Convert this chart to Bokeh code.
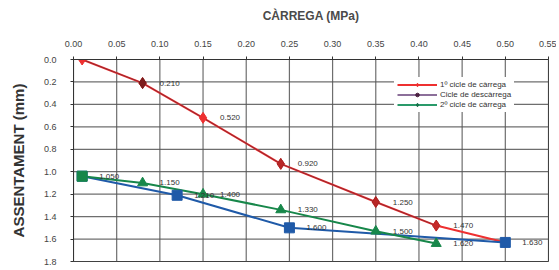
from bokeh.plotting import figure
from bokeh.models import (Range1d, FixedTicker, NumeralTickFormatter, Legend, LegendItem,
                          ColumnDataSource)
from bokeh.core.properties import value
from bokeh.embed import file_html
from bokeh.resources import INLINE

# ---- data ----
x_ticks = [0.00, 0.05, 0.10, 0.15, 0.20, 0.25, 0.30, 0.35, 0.40, 0.45, 0.50, 0.55]
y_ticks = [0.0, 0.2, 0.4, 0.6, 0.8, 1.0, 1.2, 1.4, 1.6, 1.8]

load1_x = [0.01, 0.08, 0.15, 0.24, 0.35, 0.42, 0.50]
load1_y = [0.00, 0.21, 0.52, 0.93, 1.27, 1.48, 1.63]
load1_lbl = ["", "0.210", "0.520", "0.920", "1.250", "1.470", "1.630"]

desc_x = [0.01, 0.08, 0.15, 0.24, 0.35, 0.42]
desc_y = [0.00, 0.21, 0.52, 0.93, 1.27, 1.48]

unload_x = [0.50, 0.25, 0.12, 0.01]
unload_y = [1.63, 1.50, 1.21, 1.04]
unload_lbl = ["", "1.600", "1.210", ""]

load2_x = [0.01, 0.08, 0.15, 0.24, 0.35, 0.42]
load2_y = [1.04, 1.10, 1.20, 1.34, 1.53, 1.64]
load2_lbl = ["1.050", "1.150", "1.400", "1.330", "1.500", "1.620"]

legend_labels = ["1º cicle de càrrega", "Cicle de descàrrega", "2º cicle de càrrega"]

FONT = "Liberation Sans"
RED = "#ee3030"
DARK = "#5a2430"
BLUE = "#1f5aa8"
GREEN = "#17874a"
NAN = float("nan")

p = figure(width=556, height=266, output_backend="svg", toolbar_location=None,
           x_range=Range1d(0.0, 0.55), y_range=Range1d(1.8, 0.0),
           x_axis_location="above",
           min_border_left=73, min_border_right=8, min_border_top=59, min_border_bottom=5)
p.outline_line_color = "#333333"
p.outline_line_width = 1

# axes
p.xaxis.ticker = FixedTicker(ticks=x_ticks)
p.yaxis.ticker = FixedTicker(ticks=y_ticks)
p.xaxis.formatter = NumeralTickFormatter(format="0.00")
p.yaxis.formatter = NumeralTickFormatter(format="0.0")
for ax in (p.xaxis, p.yaxis):
    ax.major_label_text_font = FONT
    ax.major_label_text_font_size = "9px"
    ax.major_label_text_color = "#444444"
    ax.axis_line_color = "#333333"
    ax.major_tick_line_color = "#333333"
    ax.major_tick_out = 3
    ax.major_tick_in = 0
    ax.minor_tick_line_color = None
    ax.axis_label_text_font = FONT
    ax.axis_label_text_font_style = "bold"
p.xaxis.axis_label = "CÀRREGA (MPa)"
p.xaxis.axis_label_text_font_size = "12px"
p.xaxis.axis_label_text_color = "#4a4a4a"
p.xaxis.major_label_standoff = 10
p.xaxis.axis_label_standoff = 15
p.yaxis.axis_label = "ASSENTAMENT (mm)"
p.yaxis.axis_label_text_font_size = "15px"
p.yaxis.axis_label_text_color = "#333333"
p.yaxis.major_label_standoff = 14
p.yaxis.axis_label_standoff = 14
p.xgrid.grid_line_color = None
p.ygrid.grid_line_color = None

# grid lines drawn as glyphs at the tick values, spanning the axis ranges
nx, ny = len(x_ticks), len(y_ticks)
p.segment(x0=x_ticks, y0=[y_ticks[0]] * nx, x1=x_ticks, y1=[y_ticks[-1]] * nx,
          line_color="#555555", line_alpha=0.85, line_width=1.2)
p.segment(x0=[x_ticks[0]] * ny, y0=y_ticks, x1=[x_ticks[-1]] * ny, y1=y_ticks,
          line_color="#555555", line_alpha=0.85, line_width=1.2)

# series
s1 = ColumnDataSource(dict(x=load1_x, y=load1_y, t=load1_lbl))
sd = ColumnDataSource(dict(x=desc_x, y=desc_y))
su = ColumnDataSource(dict(x=unload_x, y=unload_y, t=unload_lbl))
s2 = ColumnDataSource(dict(x=load2_x, y=load2_y, t=load2_lbl))

p.line("x", "y", source=s1, line_color=RED, line_width=2)
p.line("x", "y", source=sd, line_color=DARK, line_width=1, line_alpha=0.6)
p.scatter("x", "y", source=s1, marker="diamond", size=11, fill_color=RED, line_color=RED)
dark_pts = ColumnDataSource(dict(x=[desc_x[i] for i in (1, 3, 4, 5)],
                                 y=[desc_y[i] for i in (1, 3, 4, 5)],
                                 a=[0.85, 0.4, 0.4, 0.3]))
p.scatter("x", "y", source=dark_pts, marker="diamond", size=11, fill_color="#6a1a1a",
          line_color="#6a1a1a", fill_alpha="a", line_alpha="a")

p.line("x", "y", source=su, line_color=BLUE, line_width=2)
p.line("x", "y", source=s2, line_color=GREEN, line_width=2)
p.scatter("x", "y", source=su, marker="square", size=10, fill_color=BLUE, line_color=BLUE)
g_markers = ["square"] + ["triangle"] * (len(load2_x) - 1)
s2.data["m"] = g_markers
p.scatter("x", "y", source=s2, marker="m", size=10, fill_color=GREEN, line_color=GREEN)

for src in (s1, su, s2):
    p.text("x", "y", text="t", source=src, x_offset=17, text_baseline="middle",
           text_font=value(FONT), text_font_size="8px", text_color="#333333")

# legend (display-only renderers, NaN data)
lr1 = p.line([NAN], [NAN], line_color=RED, line_width=2)
lm1 = p.scatter([NAN], [NAN], marker="diamond", size=5, fill_color=RED, line_color=RED)
lr2 = p.line([NAN], [NAN], line_color="#8c6f9a", line_width=2)
lm2 = p.scatter([NAN], [NAN], marker="circle", size=5, fill_color="#4a2040", line_color="#4a2040")
lr3 = p.line([NAN], [NAN], line_color="#2a9a6a", line_width=2)
lm3 = p.scatter([NAN], [NAN], marker="diamond", size=5, fill_color="#17704a", line_color="#17704a")
legend = Legend(items=[LegendItem(label=legend_labels[0], renderers=[lr1, lm1]),
                       LegendItem(label=legend_labels[1], renderers=[lr2, lm2]),
                       LegendItem(label=legend_labels[2], renderers=[lr3, lm3])],
                location=(321, 149))
legend.label_text_font = FONT
legend.label_text_font_size = "8px"
legend.label_text_color = "#333333"
legend.glyph_width = 40
legend.glyph_height = 9
legend.label_height = 9
legend.spacing = 1
legend.padding = 3
legend.margin = 0
legend.label_standoff = 3
legend.border_line_alpha = 0
legend.background_fill_color = "white"
legend.background_fill_alpha = 1
p.add_layout(legend, "center")

open("out.html", "w").write(file_html(p, INLINE))
